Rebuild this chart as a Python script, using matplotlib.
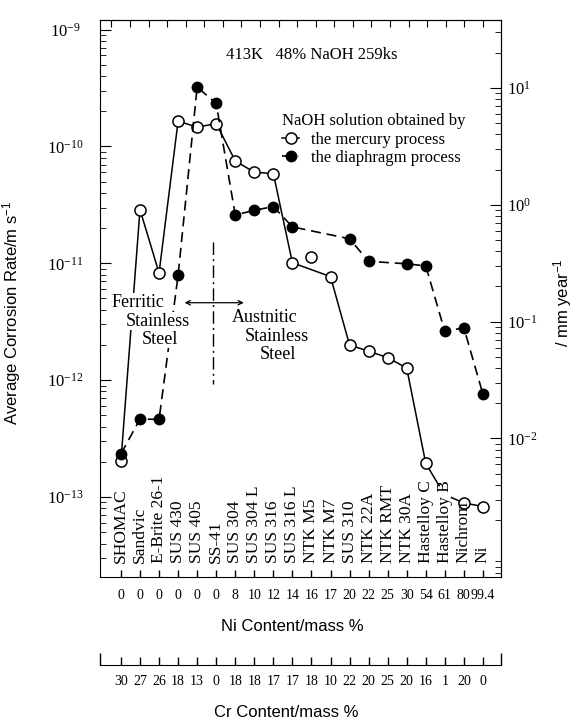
import numpy as np
import matplotlib
matplotlib.use("Agg")
import matplotlib.pyplot as plt
from matplotlib import ticker, transforms
from matplotlib.lines import Line2D

plt.rcParams['font.family'] = ['Liberation Serif', 'DejaVu Serif']
plt.rcParams['mathtext.fontset'] = 'custom'
plt.rcParams['mathtext.rm'] = 'Liberation Serif'
plt.rcParams['mathtext.it'] = 'Liberation Serif:italic'
plt.rcParams['mathtext.default'] = 'regular'

materials = ["SHOMAC", "Sandvic", "E-Brite 26-1", "SUS 430", "SUS 405", "SS-41",
             "SUS 304", "SUS 304 L", "SUS 316", "SUS 316 L", "NTK M5", "NTK M7",
             "SUS 310", "NTK 22A", "NTK RMT", "NTK 30A", "Hastelloy C",
             "Hastelloy B", "Nichrom", "Ni"]
ni_content = ["0", "0", "0", "0", "0", "0", "8", "10", "12", "14", "16", "17",
              "20", "22", "25", "30", "54", "61", "80", "99.4"]
cr_content = ["30", "27", "26", "18", "13", "0", "18", "18", "17", "17", "18", "10",
              "22", "20", "25", "20", "16", "1", "20", "0"]

# average corrosion rate, m/s
mercury = np.array([2.04e-13, 2.88e-11, 8.26e-12, 1.65e-10, 1.46e-10, 1.57e-10,
                    7.52e-11, 6.01e-11, 5.86e-11, 1.01e-11, 1.13e-11, 7.7e-12,
                    2.0e-12, 1.77e-12, 1.56e-12, 1.27e-12, 1.94e-13, np.nan,
                    8.9e-14, 8.3e-14])
diaphragm = np.array([2.34e-13, 4.65e-13, 4.62e-13, 7.89e-12, 3.22e-10, 2.33e-10,
                      2.59e-11, 2.84e-11, 3.06e-11, 2.05e-11, np.nan, np.nan,
                      1.62e-11, 1.04e-11, np.nan, 9.9e-12, 9.5e-12, 2.61e-12,
                      2.81e-12, 7.6e-13])

# the mercury curve skips NTK M5 (point drawn off the curve)
mercury_curve = [0, 1, 2, 3, 4, 5, 6, 7, 8, 9, 11, 12, 13, 14, 15, 16]
# curve running off below Hastelloy C, and the piece leading into Nichrom/Ni
mercury_tail_x = [16, 16.7]
mercury_tail_y = [1.94e-13, 1.25e-13]
mercury_lead_x = [17.35, 18, 19]
mercury_lead_y = [9.9e-14, 8.9e-14, 8.3e-14]

MS_TO_MMY = 1e3 * 365 * 24 * 3600  # m/s -> mm/year

x = np.arange(len(materials))

fig = plt.figure(figsize=(5.76, 7.25), dpi=100)
ax = fig.add_axes([0.1736, 0.2048, 0.6962, 0.7683])
ax.set_yscale('log')
ax.set_xlim(-1.1, 19.95)
ax.set_ylim(10 ** -13.68, 10 ** -8.914)

solid = dict(color='k', lw=1.1, zorder=2)
ax.plot(x[mercury_curve], mercury[mercury_curve], **solid)
ax.plot(mercury_tail_x, mercury_tail_y, **solid)
ax.plot(mercury_lead_x, mercury_lead_y, **solid)
ax.plot(x, mercury, 'o', ms=8, mfc='white', mec='k', mew=1.1, ls='none', zorder=3)

ok = ~np.isnan(diaphragm)
ax.plot(x[ok], diaphragm[ok], color='k', lw=1.2, ls=(0, (6, 3.5)), zorder=4)
ax.plot(x, diaphragm, 'o', ms=7.5, mfc='k', mec='k', ls='none', zorder=5)

# ferritic / austenitic divider
ax.plot([4.85, 4.85], [1.53e-11, 9.3e-13], color='k', lw=1.0,
        ls=(0, (9, 3, 1.5, 3)), zorder=2)
ax.annotate('', xy=(3.34, 4.6e-12), xytext=(6.45, 4.6e-12),
            arrowprops=dict(arrowstyle='<->', lw=0.9, color='k',
                            shrinkA=0, shrinkB=0, mutation_scale=8))
box = dict(fc='white', ec='none', pad=0.5)
ax.text(0.91, 4.6e-12, 'Ferritic', ha='center', va='center', fontsize=13, bbox=box, zorder=6)
ax.text(1.95, 3.2e-12, 'Stainless', ha='center', va='center', fontsize=13, bbox=box, zorder=6)
ax.text(2.03, 2.25e-12, 'Steel', ha='center', va='center', fontsize=13, bbox=box, zorder=6)
ax.text(7.53, 3.46e-12, 'Austnitic', ha='center', va='center', fontsize=13, zorder=6)
ax.text(8.2, 2.36e-12, 'Stainless', ha='center', va='center', fontsize=13, zorder=6)
ax.text(8.23, 1.65e-12, 'Steel', ha='center', va='center', fontsize=13, zorder=6)

ax.text(10.03, 6.1e-10, '413K   48% NaOH 259ks', ha='center', va='center', fontsize=12)

# material names stand inside the frame
trans = transforms.blended_transform_factory(ax.transData, ax.transAxes)
for i, name in enumerate(materials):
    ax.text(i, 0.024, name, rotation=90, ha='center', va='bottom',
            fontsize=12.5, transform=trans)

handles = [Line2D([], [], color='k', lw=1.1, marker='o', ms=8, mfc='white', mec='k', mew=1.1),
           Line2D([], [], color='k', lw=1.2, ls=(0, (3, 2)), marker='o', ms=7.5, mfc='k', mec='k')]
ax.legend(handles, ['the mercury process', 'the diaphragm process'],
          title='NaOH solution obtained by', loc='upper left',
          bbox_to_anchor=(0.455, 0.832), frameon=False, fontsize=12,
          title_fontsize=12, handlelength=1.0, handletextpad=0.7,
          labelspacing=0.15, borderpad=0, borderaxespad=0, alignment='left')

# bottom: Ni content
ax.set_xticks(x)
ax.set_xticklabels(ni_content, fontsize=10)
ax.tick_params(axis='x', direction='in', length=5, width=1.0, pad=9, top=False)
ax.set_xlabel('Ni Content/mass %', family='Liberation Sans', fontsize=12)
ax.xaxis.set_label_coords(0.48, -0.076)

# left: m/s
ax.set_yticks([1e-13, 1e-12, 1e-11, 1e-10, 1e-9])
ax.yaxis.set_minor_locator(ticker.LogLocator(subs=np.arange(2, 10)))
ax.yaxis.set_minor_formatter(ticker.NullFormatter())
ax.tick_params(axis='y', which='major', direction='in', length=8, labelsize=12,
               pad=25, right=False)
ax.tick_params(axis='y', which='minor', direction='in', length=4, right=False)
plt.setp(ax.get_yticklabels(), ha='center')
ax.set_ylabel('Average Corrosion Rate/m s$^{-1}$', family='Liberation Sans', fontsize=12)
ax.yaxis.set_label_coords(-0.192, 0.473)

# top ticks
top = ax.secondary_xaxis('top')
top.set_xticks(np.linspace(-0.5, 19, 21))
top.set_xticklabels([])
top.tick_params(direction='in', length=5)

# right: mm/year
sec = ax.secondary_yaxis('right', functions=(lambda v: v * MS_TO_MMY,
                                             lambda v: v / MS_TO_MMY))
sec.set_yticks([1e-2, 1e-1, 1, 10])
sec.yaxis.set_major_formatter(ticker.LogFormatterSciNotation())
sec.yaxis.set_minor_locator(ticker.LogLocator(subs=np.arange(2, 10)))
sec.yaxis.set_minor_formatter(ticker.NullFormatter())
sec.tick_params(which='major', direction='in', length=8, labelsize=12, pad=4)
sec.tick_params(which='minor', direction='in', length=4)
sec.set_ylabel('/ mm year$^{-1}$', family='Liberation Sans', fontsize=12)
sec.yaxis.set_label_coords(1.125, 0.491, transform=ax.transAxes)

# second scale below: Cr content
cr_ax = ax.secondary_xaxis(-0.159)
cr_ax.set_xticks(x)
cr_ax.set_xticklabels(cr_content, fontsize=10)
cr_ax.set_xticks([-1.09, 19.94], minor=True)
cr_ax.xaxis.set_minor_formatter(ticker.NullFormatter())
cr_ax.tick_params(which='major', direction='in', length=6, width=1.0, pad=7)
cr_ax.tick_params(which='minor', direction='in', length=9, width=1.0)
cr_ax.set_xlabel('Cr Content/mass %', family='Liberation Sans', fontsize=12)
cr_ax.xaxis.set_label_coords(0.465, -0.231, transform=ax.transAxes)

fig.savefig('out.png', dpi=100)
